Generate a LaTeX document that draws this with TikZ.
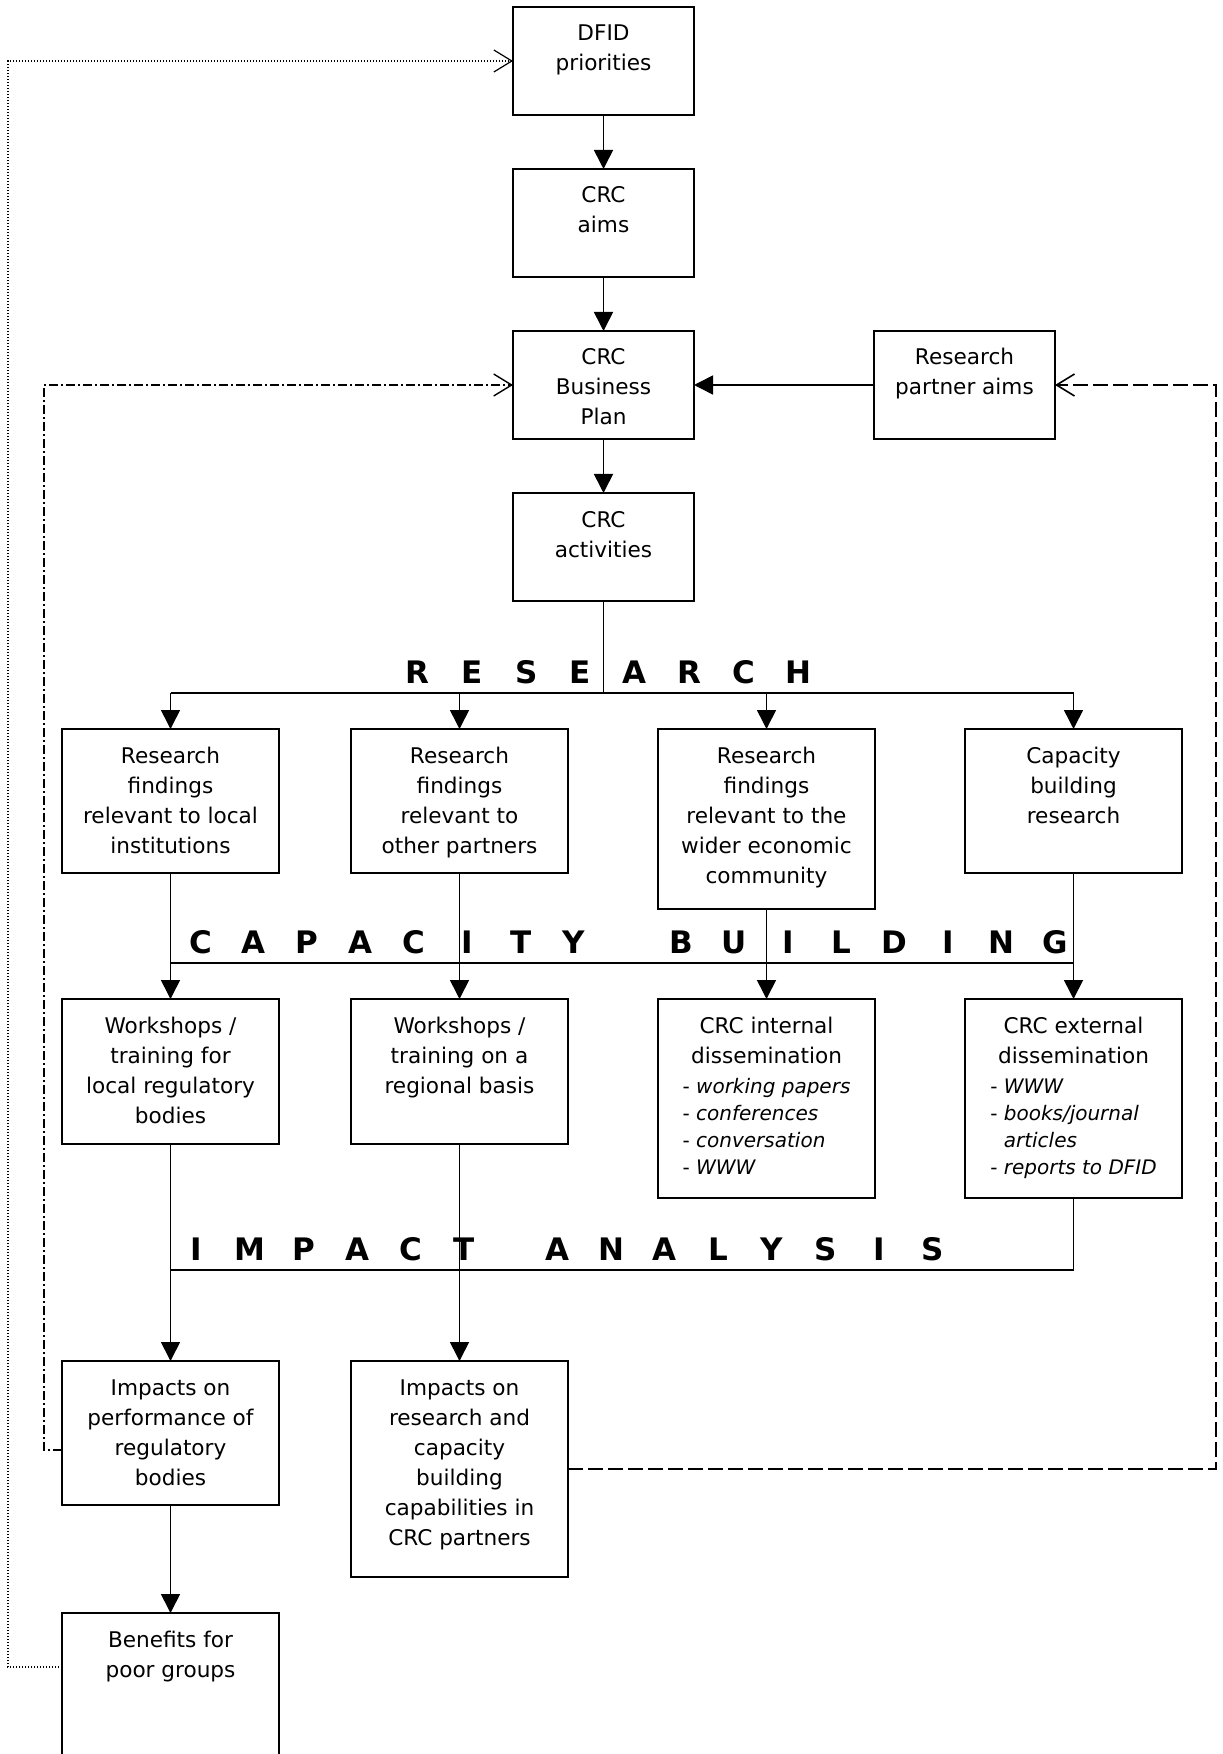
\documentclass[tikz,border=0pt]{standalone}
\usepackage{fontspec}
\setmainfont{DejaVu Sans}
\usetikzlibrary{arrows.meta,positioning}

\newcommand{\crcfont}{\fontsize{10.8pt}{15pt}\selectfont}
\newcommand{\crclist}{\fontsize{10pt}{13.5pt}\selectfont}
\newcommand{\crcbanner}{\fontsize{15.5pt}{18pt}\selectfont\bfseries}
\newcommand{\boxlines}[1]{\begin{tabular}[t]{@{}c@{}}#1\end{tabular}}
\makeatletter
\newcommand{\spread}[2][27pt]{\@tfor\spl:=#2\do{\makebox[#1]{\spl}}}
\makeatother

\begin{document}
\begin{tikzpicture}[
  x=0.5pt, y=-0.5pt,
  node distance=27pt and 90pt,
  box/.style={draw, line width=1pt, minimum width=90.5pt, outer sep=0pt,
    font=\crcfont, inner xsep=2pt, inner ysep=9pt,
    text height=8pt, text depth=#1},
  box/.default=28pt,
  wide/.style={box=#1, minimum width=108.5pt},
  wide/.default=46pt,
  link/.style={line width=0.8pt},
  arr/.style={link, -{Triangle[length=9.5pt,width=9.5pt]}},
  fbdot/.style={line width=0.6pt, dash pattern=on 0.6pt off 0.9pt,
    -{Straight Barb[length=9pt,width=11pt]}},
  fbdashdot/.style={line width=0.7pt,
    dash pattern=on 4.5pt off 1.5pt on 1pt off 1.5pt,
    -{Straight Barb[length=9pt,width=11pt]}},
  fbdash/.style={line width=0.8pt, dash pattern=on 7.5pt off 2.5pt,
    -{Straight Barb[length=9pt,width=11pt]}},
  banner/.style={font=\crcbanner, inner sep=0pt, anchor=base west},
]
\useasboundingbox (0,0) rectangle (1222,1754);

% main column
\node[box, anchor=north] (dfid) at (603.5,7) {\boxlines{DFID\\priorities}};
\node[box, below=of dfid] (aims) {\boxlines{CRC\\aims}};
\node[box, below=of aims] (bp) {\boxlines{CRC\\Business\\Plan}};
\node[box, below=of bp] (act) {\boxlines{CRC\\activities}};
\node[box, right=of bp] (rp) {\boxlines{Research\\partner aims}};

% research findings
\node[wide, anchor=north] (f1) at (170.5,729)
  {\boxlines{Research\\findings\\relevant to local\\institutions}};
\node[wide, anchor=north] (f2) at (459.5,729)
  {\boxlines{Research\\findings\\relevant to\\other partners}};
\node[wide=64pt, anchor=north] (f3) at (766.5,729)
  {\boxlines{Research\\findings\\relevant to the\\wider economic\\community}};
\node[wide, anchor=north] (f4) at (1073.5,729)
  {\boxlines{Capacity\\building\\research}};

% capacity building
\node[wide=46.5pt, below=63pt of f1] (w1)
  {\boxlines{Workshops /\\training for\\local regulatory\\bodies}};
\node[wide=46.5pt, below=63pt of f2] (w2)
  {\boxlines{Workshops /\\training on a\\regional basis}};
\node[wide=73.5pt, below=45pt of f3] (d3)
  {\boxlines{CRC internal\\dissemination\\\crclist\begin{tabular}[t]{@{}l@{}}
    - \textit{working papers}\\- \textit{conferences}\\
    - \textit{conversation}\\- \textit{WWW}\end{tabular}}};
\node[wide=73.5pt, below=63pt of f4] (d4)
  {\boxlines{CRC external\\dissemination\\\crclist\begin{tabular}[t]{@{}l@{}}
    - \textit{WWW}\\- \textit{books/journal}\\
    \hphantom{- }\textit{articles}\\- \textit{reports to DFID}\end{tabular}}};

% impacts
\node[wide, below=108.5pt of w1] (i1)
  {\boxlines{Impacts on\\performance of\\regulatory\\bodies}};
\node[wide=82pt, below=108.5pt of w2] (i2)
  {\boxlines{Impacts on\\research and\\capacity\\building\\capabilities in\\CRC partners}};
\node[wide, below=54pt of i1] (ben) {\boxlines{Benefits for\\poor groups}};

% banners
\node[banner] (research) at (389.8,683) {\spread[27.2pt]{RESEARCH}};
\node[banner] (capacity) at (173.3,953)
  {\spread[26.7pt]{CAPACITY}\hspace{26.7pt}\spread[26.7pt]{BUILDING}};
\node[banner] (impact) at (169.2,1260)
  {\spread[26.8pt]{IMPACT}\hspace{19.7pt}\spread[26.8pt]{ANALYSIS}};

\coordinate (rbar) at (0,693);
\coordinate (cbar) at (0,963);
\coordinate (ibar) at (0,1270);
\coordinate (dotx) at (8,0);
\coordinate (dashdotx) at (44,0);
\coordinate (dashx) at (1216,0);

% arrows
\draw[arr] (dfid) -- (aims);
\draw[arr] (aims) -- (bp);
\draw[arr] (bp) -- (act);
\draw[arr] (rp) -- (bp);

\draw[link] (act.south) -- (act.south |- rbar);
\draw[link] (f1 |- rbar) -- (f4 |- rbar);
\foreach \f in {f1,f2,f3,f4}
  \draw[arr] (\f |- rbar) -- (\f.north);

\draw[link] (f1 |- cbar) -- (f4 |- cbar);
\foreach \f/\t in {f1/w1,f2/w2,f3/d3,f4/d4}
  \draw[arr] (\f.south) -- (\t.north);

\draw[link] (d4.south) -- (d4 |- ibar) -- (w1 |- ibar);
\draw[arr] (w1.south) -- (i1.north);
\draw[arr] (w2.south) -- (i2.north);
\draw[arr] (i1.south) -- (ben.north);

% feedback loops
\draw[fbdot] ([yshift=-27pt]ben.north west) -| (dotx |- dfid.west)
  -- (dfid.west);
\draw[fbdashdot] ([yshift=-44.5pt]i1.north west) -| (dashdotx |- bp.west)
  -- (bp.west);
\draw[fbdash] (i2.east) -| (dashx |- rp.east) -- (rp.east);
\end{tikzpicture}
\end{document}
